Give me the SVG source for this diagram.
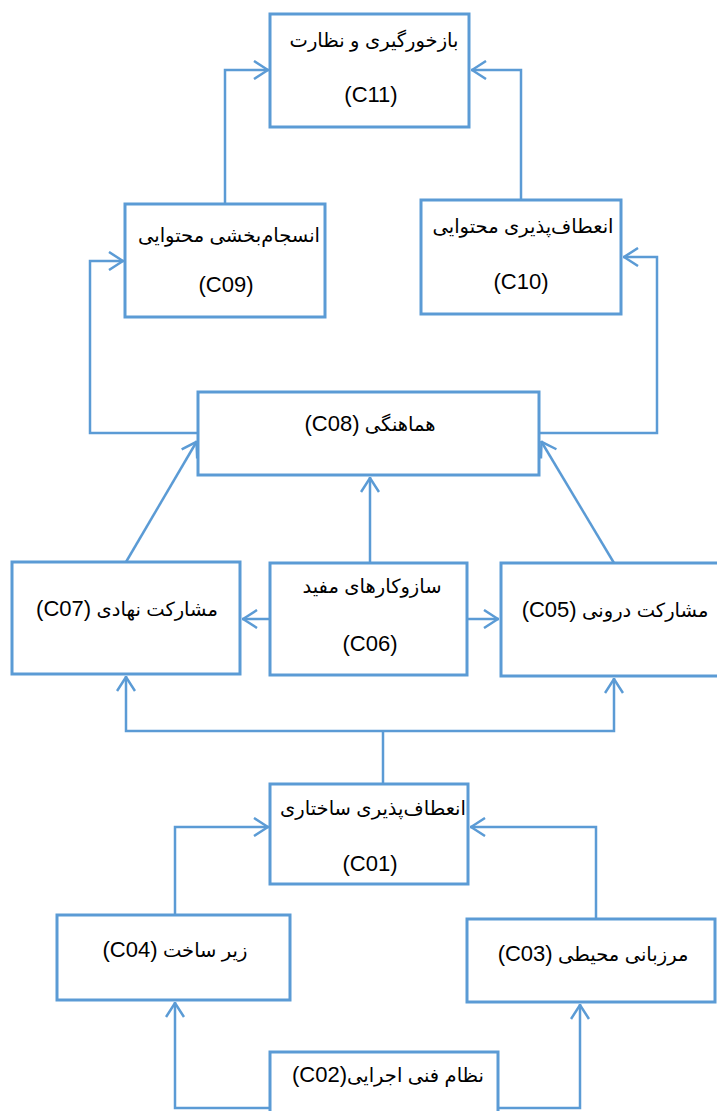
<svg xmlns="http://www.w3.org/2000/svg" width="717" height="1111" viewBox="0 0 717 1111">
<style>
.box{fill:#fff;stroke:#5B9BD5;stroke-width:3}
.con{fill:none;stroke:#5B9BD5;stroke-width:2.5}
.t{font-family:"Liberation Sans","DejaVu Sans",sans-serif;font-size:19.5px;fill:#000;text-anchor:middle;direction:rtl;unicode-bidi:embed}
.l{font-family:"Liberation Sans",sans-serif;font-size:22px}
</style>
<defs>
<marker id="ah" viewBox="0 0 16 20" refX="16" refY="10" markerWidth="16" markerHeight="20" markerUnits="userSpaceOnUse" orient="auto">
<path d="M1,1 L15,10 L1,19" fill="none" stroke="#5B9BD5" stroke-width="2.5"/>
</marker>
</defs>
<rect width="717" height="1111" fill="#fff"/>
<g id="connectors">
<path class="con" d="M225,204 V70 H269" marker-end="url(#ah)"/>
<path class="con" d="M521,200 V70 H471" marker-end="url(#ah)"/>
<path class="con" d="M198,433 H90 V261 H124" marker-end="url(#ah)"/>
<path class="con" d="M539,433 H657 V257 H623" marker-end="url(#ah)"/>
<path class="con" d="M126,562 L197,441" marker-end="url(#ah)"/>
<path class="con" d="M614,563 L541,441" marker-end="url(#ah)"/>
<path class="con" d="M370,563 V477" marker-end="url(#ah)"/>
<path class="con" d="M270,619 H242" marker-end="url(#ah)"/>
<path class="con" d="M467,619 H499" marker-end="url(#ah)"/>
<path class="con" d="M383,783 V731"/>
<path class="con" d="M383,731 H126 V676" marker-end="url(#ah)"/>
<path class="con" d="M383,731 H614 V678" marker-end="url(#ah)"/>
<path class="con" d="M175,915 V827 H269" marker-end="url(#ah)"/>
<path class="con" d="M596,919 V827 H470" marker-end="url(#ah)"/>
<path class="con" d="M270,1108 H175 V1002" marker-end="url(#ah)"/>
<path class="con" d="M498,1108 H580 V1004" marker-end="url(#ah)"/>
</g>
<g id="C11"><rect class="box" x="270" y="14" width="199" height="113"/>
<text class="t" x="374" y="47">بازخورگیری و نظارت</text>
<text class="t l" x="371" y="102">(C11)</text></g>
<g id="C09"><rect class="box" x="125" y="204" width="200" height="113"/>
<text class="t" x="229" y="242">انسجام‌بخشی محتوایی</text>
<text class="t l" x="226" y="292">(C09)</text></g>
<g id="C10"><rect class="box" x="421" y="200" width="200" height="114"/>
<text class="t" x="523" y="233">انعطاف‌پذیری محتوایی</text>
<text class="t l" x="521" y="289">(C10)</text></g>
<g id="C08"><rect class="box" x="198" y="392" width="341" height="83"/>
<text class="t" x="370" y="431">هماهنگی <tspan class="l">(C08)</tspan></text></g>
<g id="C07"><rect class="box" x="12" y="562" width="228" height="112"/>
<text class="t" x="127" y="616">مشارکت نهادی <tspan class="l">(C07)</tspan></text></g>
<g id="C06"><rect class="box" x="270" y="563" width="197" height="112"/>
<text class="t" x="372" y="593">سازوکارهای مفید</text>
<text class="t l" x="370" y="651">(C06)</text></g>
<g id="C05"><rect class="box" x="501" y="563" width="230" height="113"/>
<text class="t" x="615" y="617">مشارکت درونی <tspan class="l">(C05)</tspan></text></g>
<g id="C01"><rect class="box" x="270" y="784" width="198" height="100"/>
<text class="t" x="373" y="815">انعطاف‌پذیری ساختاری</text>
<text class="t l" x="370" y="871">(C01)</text></g>
<g id="C04"><rect class="box" x="57" y="915" width="233" height="85"/>
<text class="t" x="175" y="957">زیر ساخت <tspan class="l">(C04)</tspan></text></g>
<g id="C03"><rect class="box" x="467" y="919" width="248" height="83"/>
<text class="t" x="593" y="961">مرزبانی محیطی <tspan class="l">(C03)</tspan></text></g>
<g id="C02"><rect class="box" x="270" y="1052" width="228" height="70"/>
<text class="t" x="388" y="1082">نظام فنی اجرایی<tspan class="l">(C02)</tspan></text></g>
</svg>
